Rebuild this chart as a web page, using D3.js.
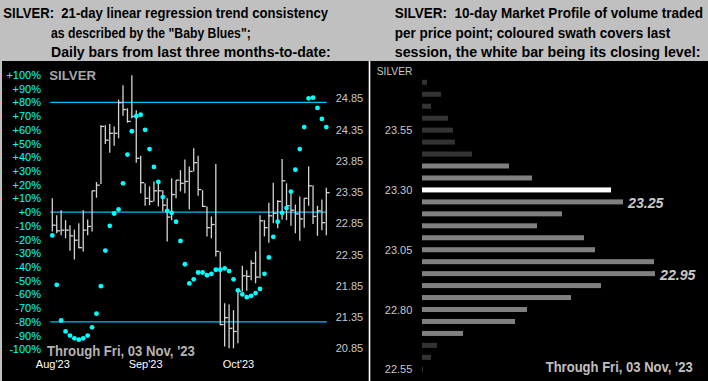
<!DOCTYPE html>
<html><head><meta charset="utf-8">
<script src="https://cdn.jsdelivr.net/npm/d3@7"></script>
<style>html,body{margin:0;padding:0;background:#c0c0c0;overflow:hidden} text{white-space:pre}</style>
</head><body>
<svg id="c" width="708" height="381"></svg>
<script>
// ---------- DATA ----------
const monthLabels = ["Aug'23", "Sep'23", "Oct'23"];
const monthStartIdx = [0, 21, 42];
const highs = [23.25,22.98,23.06,22.90,22.82,22.75,22.85,23.06,22.91,23.37,
  23.51,24.42,24.42,24.44,24.40,24.83,25.06,24.69,25.22,24.66,
  23.93,23.49,23.44,23.52,23.49,23.38,23.25,23.57,23.54,23.70,
  23.87,23.76,24.05,23.93,23.38,23.12,22.96,23.80,22.40,21.57,
  21.55,21.46,21.76,22.17,22.10,22.26,22.40,22.98,22.90,23.18,
  23.50,23.22,23.88,23.49,23.38,23.15,23.28,23.25,23.76,23.46,
  23.13,23.23,23.42];
const lows = [22.72,22.69,22.66,22.61,22.41,22.27,22.45,22.40,22.66,22.72,
  23.26,23.48,24.12,23.98,24.09,24.21,24.57,24.46,24.53,23.82,
  23.33,23.13,23.14,23.20,23.12,23.04,22.56,22.90,23.25,23.36,
  23.33,23.07,23.68,23.29,23.11,22.64,22.61,22.32,21.22,20.88,
  20.85,20.85,20.93,21.76,21.77,21.94,21.89,21.97,22.64,22.54,
  22.85,22.77,22.91,22.90,22.81,22.69,22.57,22.78,23.13,22.84,
  22.65,22.74,22.66];
const closes = [22.82,22.73,22.74,22.74,22.65,22.58,22.46,22.74,22.80,23.37,
  23.46,24.40,24.18,24.29,24.29,24.78,24.67,24.48,24.56,23.89,
  23.50,23.25,23.20,23.37,23.37,23.14,22.95,23.31,23.54,23.49,
  23.52,23.68,23.82,23.39,23.12,22.78,22.83,22.40,21.23,21.34,
  21.17,21.12,21.76,22.01,22.00,22.21,21.99,22.89,22.78,22.97,
  23.01,23.20,23.53,23.13,23.06,23.00,22.92,23.25,23.45,22.96,
  23.05,22.86,23.34];
const babyBlues = [-17,-53,-79,-87,-90,-92,-93,-92,-90,-84,
  -74,-54,-28,-10,-1,2,21,42,59,70,
  71,60,46,33,22,11,1,-0.5,-7,-21,
  -38,-52,-49,-44,-44,-46,-45,-42,-42,-41,
  -43,-49,-57,-60,-62,-61,-59,-56,-45,-33,
  -18,-7,-0.5,3,15,31,46,62,83,83.5,
  76,68,62];
const pctTicks = [100,90,80,70,60,50,40,30,20,10,0,-10,-20,-30,-40,-50,-60,-70,-80,-90,-100];
const pctRefLines = [80, 0, -80];
const priceTicks = [24.85,24.35,23.85,23.35,22.85,22.35,21.85,21.35,20.85];

const profilePrices = [23.75,23.70,23.65,23.60,23.55,23.50,23.45,23.40,23.35,23.30,23.25,23.20,23.15,
  23.10,23.05,23.00,22.95,22.90,22.85,22.80,22.75,22.70,22.65,22.60,22.55];
const profileVolumes = [5,19,9,26,31,33,50,87,110,189,201,140,115,
  162,173,232,233,179,149,105,93,41,15,9,1];
const swathLow = 22.70, swathHigh = 23.40, closeLevel = 23.30;
const profileTicks = [23.55,23.30,23.05,22.80,22.55];
const profileNotes = [23.25, 22.95];

const leftTitle = ["SILVER:  21-day linear regression trend consistency",
  "as described by the \"Baby Blues\";", "Daily bars from last three months-to-date:"];
const rightTitle = ["SILVER:  10-day Market Profile of volume traded",
  "per price point; coloured swath covers last", "session, the white bar being its closing level:"];
const footer = "Through Fri, 03 Nov, '23";

// ---------- DRAW ----------
const svg = d3.select("#c");
const FONT = "'Liberation Sans', Arial, sans-serif";
svg.append("rect").attr("width",708).attr("height",381).attr("fill","#c0c0c0");
svg.append("rect").attr("x",2).attr("y",61).attr("width",706).attr("height",320).attr("fill","#000");
svg.append("line").attr("x1",369.5).attr("x2",369.5).attr("y1",61).attr("y2",381)
  .attr("stroke","#fff").attr("stroke-width",1.6);

function txt(x,y,s,opt){
  const t = svg.append("text").attr("x",0).attr("y",0).text(s)
    .attr("font-family",opt.family||FONT).attr("font-size",opt.size)
    .attr("font-weight",opt.weight||"normal").attr("fill",opt.fill||"#000")
    .attr("transform",`translate(${x},${y})`);
  if(opt.style) t.attr("font-style",opt.style);
  if(opt.len){
    const w = t.node().getComputedTextLength();
    if(w>0) t.attr("transform",`translate(${x},${y}) scale(${opt.len/w},1)`);
  }
  return t;
}
const tY = [18.3, 37.6, 57.3];
const lX = [3.3, 51, 51], lLen = [325, 200, 280];
const rX = [394.7, 394.7, 394.7], rLen = [308.7, 276, 306];
leftTitle.forEach((s,i)=>txt(lX[i],tY[i],s,{size:15,weight:"bold",len:lLen[i]}));
rightTitle.forEach((s,i)=>txt(rX[i],tY[i],s,{size:15,weight:"bold",len:rLen[i]}));

// Left chart
const n = closes.length;
const x = d3.scaleLinear().domain([0, n-1]).range([52.3, 326.3]);
const yPct = d3.scaleLinear().domain([-100,100]).range([349.3,75]);
const yPx = d3.scaleLinear().domain([20.85,24.85]).range([348.3,98.3]);

const gL = svg.append("g").attr("transform","translate(41,0)")
  .call(d3.axisLeft(yPct).tickValues(pctTicks).tickSize(0).tickPadding(0)
    .tickFormat(d=>(d>=0?"+":"")+d+"%"));
gL.select(".domain").remove();
gL.selectAll("text").attr("fill","#00ffff").attr("font-size",11).attr("font-family",FONT);

const gR = svg.append("g").attr("transform","translate(335.7,0)")
  .call(d3.axisRight(yPx).tickValues(priceTicks).tickSize(0).tickPadding(0).tickFormat(d3.format(".2f")));
gR.select(".domain").remove();
gR.selectAll("text").attr("fill","#c8c8c8").attr("font-size",11).attr("font-family",FONT);

const gB = svg.append("g").attr("transform","translate(0,360.5)")
  .call(d3.axisBottom(x).tickValues(monthStartIdx).tickSize(0).tickPadding(0)
    .tickFormat((d,i)=>monthLabels[i]));
gB.select(".domain").remove();
gB.selectAll("text").attr("fill","#fff").attr("font-size",11).attr("font-family",FONT);

svg.append("g").selectAll("line").data(pctRefLines).join("line")
  .attr("x1",x(0)-2).attr("x2",x(n-1)+0.5)
  .attr("y1",d=>yPct(d)).attr("y2",d=>yPct(d))
  .attr("stroke","#00bfff").attr("stroke-width",1.3);

txt(49.3,80,"SILVER",{size:12.5,weight:"bold",fill:"#a8a8a8",len:46.7});
txt(47,355.7,footer,{size:15,weight:"bold",fill:"#b4b4b4",len:148});

const bars = svg.append("g").attr("stroke","#d4d4d4").attr("stroke-width",1.3);
d3.range(n).forEach(i=>{
  bars.append("line").attr("x1",x(i)).attr("x2",x(i)).attr("y1",yPx(highs[i])).attr("y2",yPx(lows[i]));
  bars.append("line").attr("x1",x(i)).attr("x2",x(i)+3.3).attr("y1",yPx(closes[i])).attr("y2",yPx(closes[i]));
});
svg.append("g").selectAll("circle").data(babyBlues).join("circle")
  .attr("cx",(d,i)=>x(i)).attr("cy",d=>yPct(d)).attr("r",2.4).attr("fill","#00ffff");

// Right chart
const yP = d3.scaleLinear().domain([22.55,23.75]).range([369.3,82.3]);
const xV = d3.scaleLinear().domain([0,250]).range([422,672]);
const gP = svg.append("g").attr("transform","translate(412.3,0)")
  .call(d3.axisLeft(yP).tickValues(profileTicks).tickSize(0).tickPadding(0).tickFormat(d3.format(".2f")));
gP.select(".domain").remove();
gP.selectAll("text").attr("fill","#c8c8c8").attr("font-size",11).attr("font-family",FONT);
txt(376.7,75,"SILVER",{size:11,fill:"#c8c8c8",len:35.7});

svg.append("g").selectAll("rect").data(profilePrices).join("rect")
  .attr("x",xV(0)).attr("y",d=>yP(d)-2.5).attr("height",5)
  .attr("width",(d,i)=>xV(profileVolumes[i])-xV(0))
  .attr("fill",d=>Math.abs(d-closeLevel)<1e-6?"#ffffff":(d>=swathLow-1e-6&&d<=swathHigh+1e-6?"#808080":"#333333"));

profileNotes.forEach(p=>{
  const i = profilePrices.indexOf(p);
  txt(xV(profileVolumes[i])+5, yP(p)+6, p.toFixed(2),
    {size:15,weight:"bold",style:"italic",fill:"#c8c8c8",len:35.5});
});
txt(545.7,372.3,footer,{size:15,weight:"bold",fill:"#c0c0c0",len:147});
</script>
</body></html>
